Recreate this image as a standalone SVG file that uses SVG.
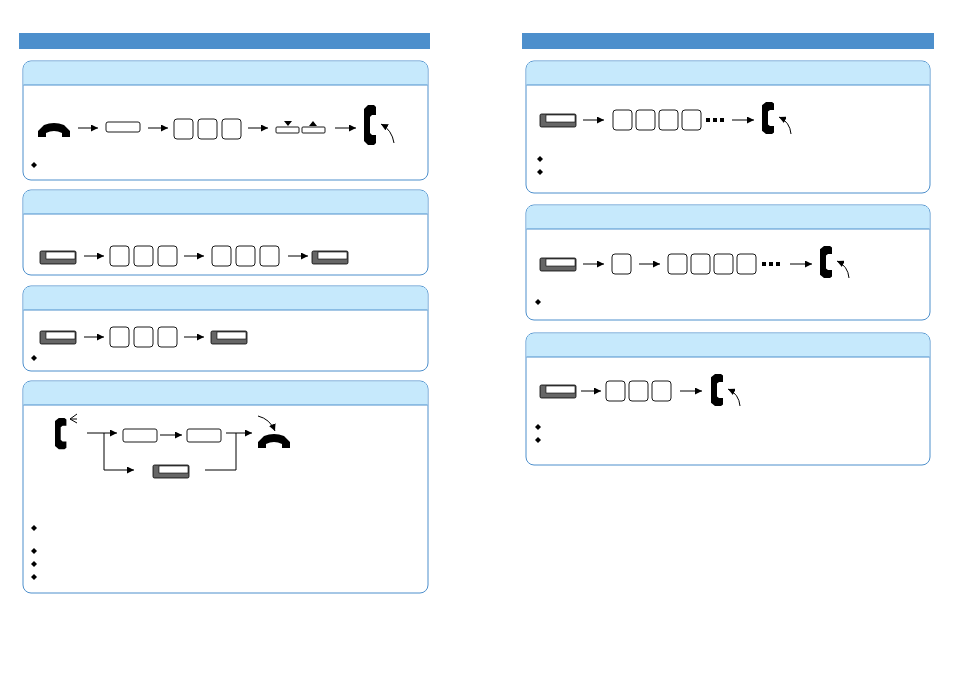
<svg xmlns="http://www.w3.org/2000/svg" xmlns:xlink="http://www.w3.org/1999/xlink" width="954" height="675" viewBox="0 0 954 675">
<style>
.bar{fill:#4d8fcc}
.panel{fill:#fff;stroke:#4d8fcc;stroke-width:1}
.hdr{fill:#c6e9fc}
.key{fill:#fff;stroke:#000;stroke-width:0.9}
.ln{stroke:#000;stroke-width:1;fill:none}
.blk{fill:#000}
</style>
<defs>
<marker id="ah" viewBox="0 0 10 10" refX="10" refY="5" markerWidth="7" markerHeight="7" markerUnits="userSpaceOnUse" orient="auto"><path d="M0,0 L10,5 L0,10 Z" fill="#000"/></marker>
<g id="off"><path class="blk" d="M4,0 H10 L12,2 V10 H8 L6,12 V28 L8,30 H12 V38 L10,40 H4 L0,36 V4 Z"/></g>
<g id="on"><path class="blk" d="M0,14 V8 L6,2 Q16,-2 26,2 L32,8 V14 H24 V10 Q16,6 8,10 V14 Z"/></g>
<g id="fb"><rect x="0" y="0" width="36" height="13" rx="1.5" fill="#666" stroke="#000" stroke-width="0.8"/><rect x="6" y="1" width="29" height="7" fill="#fff" stroke="#000" stroke-width="0.6"/></g>
<g id="k"><rect class="key" x="0" y="0" width="19" height="20" rx="3"/></g>
<g id="d"><path class="blk" d="M0,-3 L3,0 L0,3 L-3,0 Z"/></g>
</defs>
<rect width="954" height="675" fill="#fff"/>
<rect class="bar" x="19" y="33" width="411" height="16"/>
<rect class="bar" x="522" y="33" width="412" height="16"/>
<g id="panel1">
<rect class="panel" x="23" y="61" width="405" height="119" rx="8"/>
<path class="hdr" d="M31,61.5 H420 Q427.5,61.5 427.5,69 V85 H23.5 V69 Q23.5,61.5 31,61.5 Z"/>
<line x1="23.5" y1="85" x2="427.5" y2="85" stroke="#4d8fcc"/>
<use xlink:href="#on" x="38" y="123"/>
<rect class="key" x="106" y="122" width="34" height="10" rx="2"/>
<use xlink:href="#k" x="174" y="119"/><use xlink:href="#k" x="198" y="119"/><use xlink:href="#k" x="222" y="119"/>
<rect class="key" x="276" y="127" width="23" height="6" rx="1"/><rect class="key" x="302" y="127" width="23" height="6" rx="1"/>
<path class="blk" d="M284,121 H292 L288,126 Z M309,126 H317 L313,121 Z"/>
<use xlink:href="#off" x="364" y="105"/>
<path class="ln" d="M394,143 Q392,130 381,124" marker-end="url(#ah)"/>
<use xlink:href="#d" x="34" y="165"/>
</g>
<g id="panel2">
<rect class="panel" x="23" y="190" width="405" height="85" rx="8"/>
<path class="hdr" d="M31,190.5 H420 Q427.5,190.5 427.5,198 V214 H23.5 V198 Q23.5,190.5 31,190.5 Z"/>
<line x1="23.5" y1="214" x2="427.5" y2="214" stroke="#4d8fcc"/>
<use xlink:href="#fb" x="40" y="251"/>
<use xlink:href="#k" x="110" y="246"/><use xlink:href="#k" x="134" y="246"/><use xlink:href="#k" x="158" y="246"/>
<use xlink:href="#k" x="212" y="246"/><use xlink:href="#k" x="236" y="246"/><use xlink:href="#k" x="260" y="246"/>
<use xlink:href="#fb" x="312" y="251"/>
</g>
<g id="panel3">
<rect class="panel" x="23" y="286" width="405" height="85" rx="8"/>
<path class="hdr" d="M31,286.5 H420 Q427.5,286.5 427.5,294 V310 H23.5 V294 Q23.5,286.5 31,286.5 Z"/>
<line x1="23.5" y1="310" x2="427.5" y2="310" stroke="#4d8fcc"/>
<use xlink:href="#fb" x="40" y="331"/>
<use xlink:href="#k" x="110" y="327"/><use xlink:href="#k" x="134" y="327"/><use xlink:href="#k" x="158" y="327"/>
<use xlink:href="#fb" x="211" y="331"/>
<use xlink:href="#d" x="34" y="358"/>
</g>
<g id="panel4">
<rect class="panel" x="23" y="381" width="405" height="212" rx="8"/>
<path class="hdr" d="M31,381.5 H420 Q427.5,381.5 427.5,389 V405 H23.5 V389 Q23.5,381.5 31,381.5 Z"/>
<line x1="23.5" y1="405" x2="427.5" y2="405" stroke="#4d8fcc"/>
<use xlink:href="#off" x="55" y="418" transform="translate(55,418) scale(0.95,0.78) translate(-55,-418)"/>
<path class="ln" d="M77,414 L70,419 L77,423 M70,419 H77" stroke-width="0.7"/>
<rect class="key" x="123" y="429" width="34" height="13" rx="2"/>
<rect class="key" x="187" y="429" width="34" height="13" rx="2"/>
<use xlink:href="#on" x="258" y="434"/>
<path class="ln" d="M258,416 Q270,419 275,431" marker-end="url(#ah)"/>
<use xlink:href="#fb" x="153" y="465"/>
<use xlink:href="#d" x="34" y="528"/><use xlink:href="#d" x="34" y="551"/><use xlink:href="#d" x="34" y="564"/><use xlink:href="#d" x="34" y="577"/>
</g>
<g id="panelR1">
<rect class="panel" x="526" y="61" width="404" height="132" rx="8"/>
<path class="hdr" d="M534,61.5 H922 Q929.5,61.5 929.5,69 V85 H526.5 V69 Q526.5,61.5 534,61.5 Z"/>
<line x1="526.5" y1="85" x2="929.5" y2="85" stroke="#4d8fcc"/>
<use xlink:href="#fb" x="540" y="114"/>
<use xlink:href="#k" x="613" y="110"/><use xlink:href="#k" x="636" y="110"/><use xlink:href="#k" x="659" y="110"/><use xlink:href="#k" x="682" y="110"/>
<path class="blk" d="M706,118h4v4h-4z M713,118h4v4h-4z M720,118h4v4h-4z"/>
<use xlink:href="#off" x="762" y="102" transform="translate(762,102) scale(1,0.8) translate(-762,-102)"/>
<path class="ln" d="M791,134 Q790,122 779,117" marker-end="url(#ah)"/>
<use xlink:href="#d" x="540" y="159"/><use xlink:href="#d" x="540" y="172"/>
</g>
<g id="panelR2">
<rect class="panel" x="526" y="205" width="404" height="115" rx="8"/>
<path class="hdr" d="M534,205.5 H922 Q929.5,205.5 929.5,213 V229 H526.5 V213 Q526.5,205.5 534,205.5 Z"/>
<line x1="526.5" y1="229" x2="929.5" y2="229" stroke="#4d8fcc"/>
<use xlink:href="#fb" x="540" y="258"/>
<use xlink:href="#k" x="612" y="254"/>
<use xlink:href="#k" x="668" y="254"/><use xlink:href="#k" x="691" y="254"/><use xlink:href="#k" x="714" y="254"/><use xlink:href="#k" x="737" y="254"/>
<path class="blk" d="M762,262h4v4h-4z M769,262h4v4h-4z M776,262h4v4h-4z"/>
<use xlink:href="#off" x="820" y="246" transform="translate(820,246) scale(1,0.8) translate(-820,-246)"/>
<path class="ln" d="M849,278 Q848,266 837,261" marker-end="url(#ah)"/>
<use xlink:href="#d" x="538" y="302"/>
</g>
<g id="panelR3">
<rect class="panel" x="526" y="333" width="404" height="132" rx="8"/>
<path class="hdr" d="M534,333.5 H922 Q929.5,333.5 929.5,341 V357 H526.5 V341 Q526.5,333.5 534,333.5 Z"/>
<line x1="526.5" y1="357" x2="929.5" y2="357" stroke="#4d8fcc"/>
<use xlink:href="#fb" x="540" y="385"/>
<use xlink:href="#k" x="606" y="381"/><use xlink:href="#k" x="629" y="381"/><use xlink:href="#k" x="652" y="381"/>
<use xlink:href="#off" x="711" y="374" transform="translate(711,374) scale(1,0.8) translate(-711,-374)"/>
<path class="ln" d="M740,406 Q739,394 728,389" marker-end="url(#ah)"/>
<use xlink:href="#d" x="538" y="427"/><use xlink:href="#d" x="538" y="440"/>
</g>
<g id="connectors" class="ln" marker-end="url(#ah)">
<line x1="78" y1="128" x2="98" y2="128"/>
<line x1="148" y1="128" x2="168" y2="128"/>
<line x1="248" y1="128" x2="268" y2="128"/>
<line x1="335" y1="128" x2="356" y2="128"/>
<line x1="84" y1="256" x2="104" y2="256"/>
<line x1="184" y1="256" x2="204" y2="256"/>
<line x1="288" y1="256" x2="308" y2="256"/>
<line x1="84" y1="337" x2="104" y2="337"/>
<line x1="184" y1="337" x2="204" y2="337"/>
<line x1="87" y1="433" x2="117" y2="433"/>
<line x1="160" y1="435" x2="182" y2="435"/>
<line x1="226" y1="433" x2="252" y2="433"/>
<path d="M104,433 V470 H134"/>
<path d="M205,470 H236 V433" marker-end="none"/>
<line x1="583" y1="120" x2="604" y2="120"/>
<line x1="732" y1="120" x2="754" y2="120"/>
<line x1="583" y1="264" x2="604" y2="264"/>
<line x1="639" y1="264" x2="660" y2="264"/>
<line x1="790" y1="264" x2="812" y2="264"/>
<line x1="581" y1="391" x2="601" y2="391"/>
<line x1="680" y1="391" x2="702" y2="391"/>
</g>
</svg>
